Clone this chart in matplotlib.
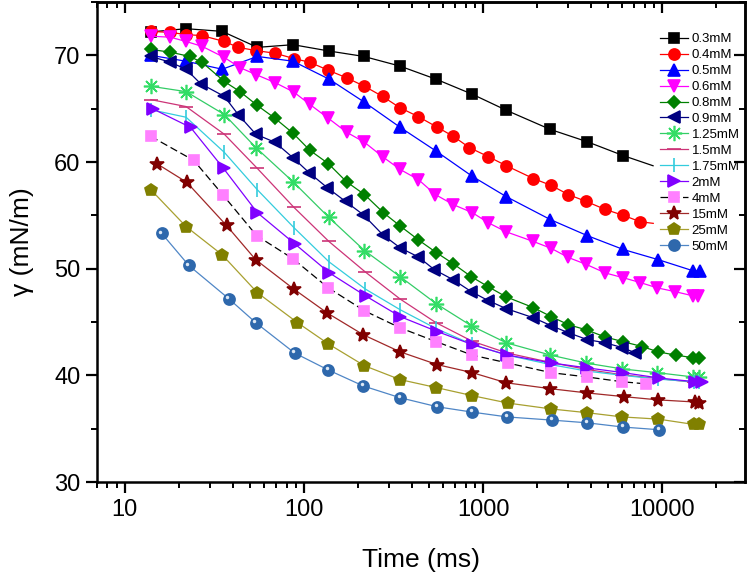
import numpy as np
import matplotlib
matplotlib.use("Agg")
import matplotlib.pyplot as plt
import matplotlib.ticker as mticker
from matplotlib.transforms import offset_copy

plt.rcParams['font.family'] = ['Liberation Sans', 'DejaVu Sans']

# surface tension vs time
t_03 = [14, 22, 35, 55, 87, 139, 216, 343, 550, 873, 1350, 2380, 3820, 6070, 8900]
g_03 = [72.2, 72.5, 72.25, 70.75, 71.0, 70.4, 69.9, 69.0, 67.75, 66.35, 64.85, 63.05, 61.9, 60.6, 59.65]

t_04 = [14, 18, 22, 27, 36, 43, 54, 69, 88, 108, 137, 173, 218, 275, 343, 436, 557, 684,
        840, 1072, 1351, 1911, 2407, 2994, 3773, 4818, 6069, 7552, 8920]
g_04 = [72.25, 72.15, 71.95, 71.85, 71.3, 70.75, 70.45, 70.2, 69.7, 69.35, 68.6, 67.9, 67.1,
        66.15, 65.1, 64.25, 63.25, 62.4, 61.35, 60.5, 59.65, 58.45, 57.8, 56.95, 56.3, 55.55,
        55.0, 54.4, 54.25]

t_05 = [14, 22, 35, 55, 87, 139, 218, 345, 550, 873, 1350, 2380, 3820, 6070, 9500, 14900, 16300]
g_05 = [70.0, 69.45, 68.7, 69.9, 69.45, 67.75, 65.6, 63.25, 61.0, 58.65, 56.75, 54.6, 53.1,
        51.8, 50.85, 49.8, 49.8]

t_06 = [14, 18, 22, 27, 36, 44, 54, 69, 88, 108, 137, 173, 218, 275, 345, 436, 542, 684, 873,
        1072, 1351, 1911, 2407, 2994, 3773, 4818, 6069, 7552, 9400, 11800, 14900, 15900]
g_06 = [71.8, 71.7, 71.3, 70.85, 69.8, 68.85, 68.2, 67.45, 66.55, 65.4, 64.1, 62.8, 61.85,
        60.5, 59.3, 58.35, 56.95, 56.0, 55.25, 54.3, 53.45, 52.55, 51.9, 51.05, 50.4, 49.6,
        49.15, 48.7, 48.2, 47.85, 47.45, 47.45]

t_08 = [14, 18, 23, 27, 36, 44, 55, 69, 87, 108, 137, 173, 218, 278, 345, 436, 550, 684, 860,
        1072, 1351, 1911, 2407, 3000, 3800, 4800, 6070, 7750, 9500, 11900, 14900, 16000]
g_08 = [70.55, 70.3, 69.9, 69.35, 67.55, 66.6, 65.3, 64.1, 62.7, 61.1, 59.85, 58.15, 56.95,
        55.25, 54.0, 52.7, 51.5, 50.45, 49.25, 48.3, 47.35, 46.35, 45.5, 44.75, 44.25, 43.6,
        43.15, 42.7, 42.2, 41.9, 41.65, 41.65]

t_09 = [14, 18, 22, 26.5, 36, 43, 54, 69, 87, 107, 135, 171, 215, 275, 345, 436, 536, 684,
        860, 1072, 1351, 1911, 2407, 2994, 3820, 4818, 6000, 7100]
g_09 = [69.9, 69.35, 68.7, 67.35, 66.15, 64.45, 62.6, 61.85, 60.4, 59.0, 57.6, 56.3, 55.05,
        53.2, 51.95, 51.1, 49.9, 48.95, 47.85, 47.0, 46.25, 45.4, 44.65, 44.0, 43.35, 43.05,
        42.6, 42.1]

t_125 = [14, 22, 36, 54, 87, 138, 218, 345, 550, 860, 1350, 2380, 3770, 6000, 9400, 14900, 16000]
g_125 = [67.1, 66.6, 64.45, 61.35, 58.15, 54.8, 51.7, 49.25, 46.7, 44.65, 43.05, 41.9, 41.15,
         40.6, 40.25, 39.85, 39.85]

t_15 = [14, 22, 36, 55, 88, 138, 220, 345, 545, 870, 1360, 2400, 3800, 6000, 9500, 15000, 16000]
g_15 = [65.85, 65.2, 62.6, 59.4, 55.75, 52.55, 49.7, 47.15, 44.95, 43.2, 42.1, 41.2, 40.55,
        40.05, 39.7, 39.35, 39.3]

t_175 = [14, 22, 36, 55, 88, 138, 220, 345, 545, 870, 1360, 2400, 3800, 6000, 9500, 15000, 16000]
g_175 = [64.9, 64.2, 60.9, 57.4, 53.85, 50.65, 48.1, 46.15, 44.4, 42.9, 41.9, 41.0, 40.4,
         40.0, 39.65, 39.4, 39.35]

t_2 = [14.3, 23.3, 35.6, 55, 88.7, 139, 221, 346, 557, 883, 1368, 2438, 3820, 6070, 9640, 15300, 16700]
g_2 = [65.0, 63.25, 59.4, 55.25, 52.35, 49.6, 47.45, 45.5, 44.1, 42.85, 41.9, 41.15, 40.7,
       40.25, 39.75, 39.4, 39.4]

t_4 = [14, 24.3, 35.2, 54.5, 86.6, 137, 218, 345, 550, 870, 1380, 2400, 3800, 6000, 8150]
g_4 = [62.4, 60.15, 56.95, 53.1, 50.95, 48.2, 46.05, 44.45, 43.15, 41.9, 41.15, 40.25, 39.85,
       39.4, 39.2]

t_15m = [15.1, 22.2, 37, 53.8, 87.7, 135, 215, 345, 557, 873, 1351, 2376, 3820, 6150, 9500, 15300, 16100]
g_15m = [59.85, 58.1, 54.05, 50.85, 48.1, 45.85, 43.8, 42.2, 41.0, 40.25, 39.3, 38.75, 38.35,
         38.0, 37.7, 37.5, 37.4]

t_25 = [14, 22, 35, 55, 92, 137, 218, 345, 550, 870, 1380, 2400, 3800, 6000, 9500, 15000, 16000]
g_25 = [57.4, 53.95, 51.3, 47.75, 44.95, 42.95, 40.9, 39.6, 38.85, 38.1, 37.4, 36.85, 36.5,
        36.1, 35.9, 35.4, 35.4]

t_50 = [16.1, 22.8, 38, 53.8, 88.7, 137, 215, 345, 557, 873, 1368, 2440, 3820, 6070, 9640]
g_50 = [53.3, 50.3, 47.2, 44.95, 42.1, 40.5, 39.0, 37.9, 37.05, 36.55, 36.1, 35.8, 35.55,
        35.15, 34.9]

labels = ['0.3mM', '0.4mM', '0.5mM', '0.6mM', '0.8mM', '0.9mM', '1.25mM', '1.5mM',
          '1.75mM', '2mM', '4mM', '15mM', '25mM', '50mM']


def main():
    fig = plt.figure(figsize=(7.5, 5.79), dpi=100)
    ax = fig.add_axes([0.1293, 0.1675, 0.864, 0.829])
    ax.set_xscale('log')

    # (t, gamma, marker, size, face, line colour, line style, skip last marker)
    styles = [
        (t_03, g_03, 's', 7, '#000000', '#000000', '-', True),
        (t_04, g_04, 'o', 8, '#FF0000', '#FF0000', '-', True),
        (t_05, g_05, '^', 8.5, '#0000FF', '#0000FF', '-', False),
        (t_06, g_06, 'v', 8.5, '#FF00FF', '#FF00FF', '-', False),
        (t_08, g_08, 'D', 6.5, '#008000', '#008000', '-', False),
        (t_09, g_09, '<', 8.5, '#000080', '#000080', '-', False),
        (t_125, g_125, (8, 2, 0), 11, '#33DD66', '#33CC66', '-', False),
        (t_15, g_15, '_', 10, '#CC3377', '#CC3377', '-', False),
        (t_175, g_175, '|', 10, '#33CCDD', '#33CCDD', '-', False),
        (t_2, g_2, '>', 8.5, '#8000FF', '#8000FF', '-', False),
        (t_4, g_4, 's', 7, '#FF80FF', '#000000', (0, (6, 3)), False),
        (t_15m, g_15m, '*', 10, '#800000', '#A02828', '-', False),
        (t_25, g_25, 'p', 9, '#808000', '#A8A030', '-', False),
        (t_50, g_50, 'o', 8, '#2E68AC', '#4F86C6', '-', False),
    ]

    for (t, g, mk, ms, fc, lc, ls, skip), lab in zip(styles, labels):
        every = list(range(len(t) - 1)) if skip else None
        ax.plot(t, g, color=lc, linestyle=ls, linewidth=0.9, marker=mk, markersize=ms,
                markerfacecolor=fc, markeredgecolor=fc, markeredgewidth=1.2,
                markevery=every, label=lab)

    # little highlight on the 50mM spheres
    hl = offset_copy(ax.transData, fig=fig, x=-1.2, y=1.2, units='points')
    ax.plot(t_50, g_50, linestyle='none', marker='o', markersize=2.5,
            markerfacecolor='#DDE8F5', markeredgecolor='none', transform=hl)

    ax.set_xlim(7, 29000)
    ax.set_ylim(30, 75)

    ax.xaxis.set_major_locator(mticker.LogLocator(base=10, numticks=10))
    ax.xaxis.set_minor_locator(mticker.LogLocator(base=10, subs=np.arange(2, 10), numticks=20))
    ax.xaxis.set_major_formatter(mticker.FuncFormatter(lambda v, p: f"{int(round(v))}"))
    ax.xaxis.set_minor_formatter(mticker.NullFormatter())
    ax.yaxis.set_major_locator(mticker.MultipleLocator(10))
    ax.yaxis.set_minor_locator(mticker.MultipleLocator(5))

    ax.tick_params(which='major', direction='out', length=8, width=1.6, labelsize=17, pad=4)
    ax.tick_params(which='minor', direction='out', length=4, width=1.4)
    for s in ax.spines.values():
        s.set_linewidth(1.8)

    top = ax.secondary_xaxis('top')
    top.xaxis.set_minor_locator(mticker.LogLocator(base=10, subs=np.arange(2, 10), numticks=20))
    top.tick_params(which='major', direction='in', length=8, width=1.6, labeltop=False)
    top.tick_params(which='minor', direction='in', length=4, width=1.4)
    right = ax.secondary_yaxis('right')
    right.yaxis.set_major_locator(mticker.MultipleLocator(10))
    right.yaxis.set_minor_locator(mticker.MultipleLocator(5))
    right.tick_params(which='major', direction='in', length=8, width=1.6, labelright=False)
    right.tick_params(which='minor', direction='in', length=4, width=1.4)
    for sec in (top, right):
        for s in sec.spines.values():
            s.set_linewidth(1.8)

    ax.set_xlabel("Time (ms)", fontsize=19, labelpad=20)
    ax.set_ylabel("γ (mN/m)", fontsize=19, labelpad=14)

    ax.legend(loc='upper left', bbox_to_anchor=(0.869, 0.935), frameon=False, fontsize=9.5,
              borderpad=0, borderaxespad=0, handlelength=2.1, handletextpad=0.3,
              labelspacing=0.28, markerscale=1.0)

    fig.savefig("out.png", dpi=100)


if __name__ == "__main__":
    main()
